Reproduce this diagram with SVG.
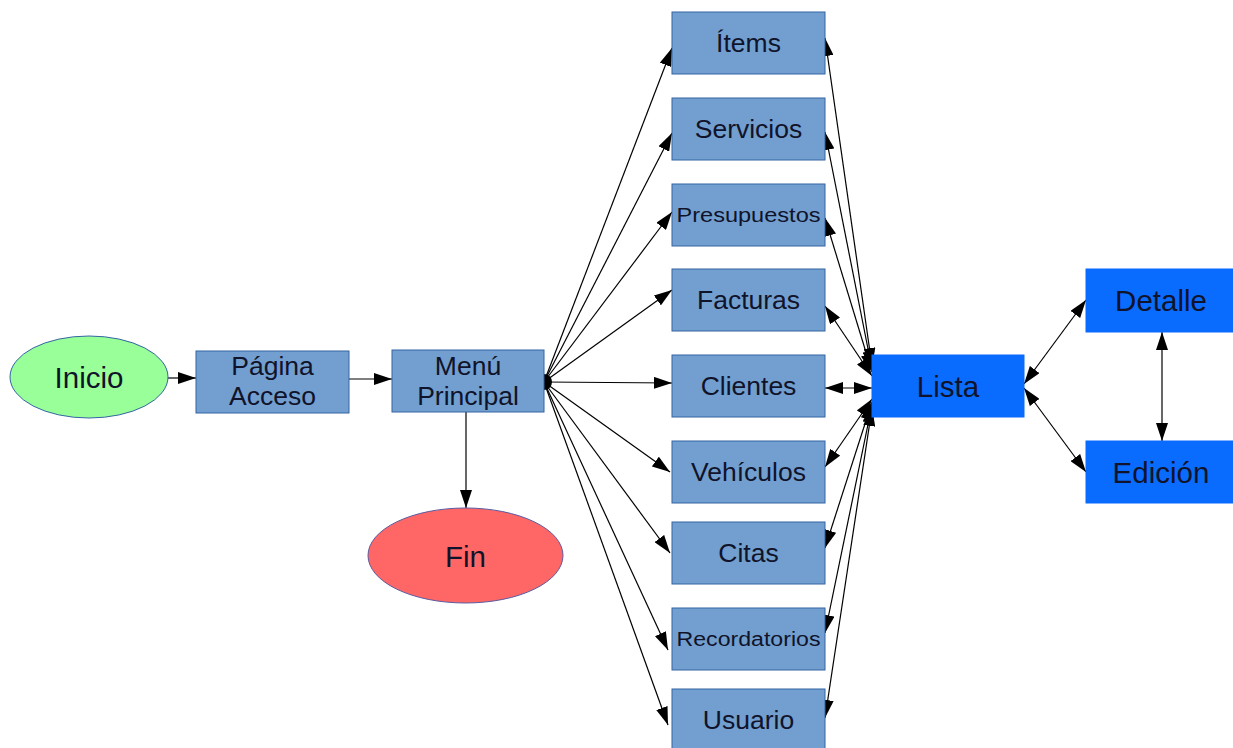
<svg xmlns="http://www.w3.org/2000/svg" width="1233" height="748" viewBox="0 0 1233 748">
  <defs>
    <style>
      .box { fill: #729fcf; stroke: #3465a4; stroke-width: 1; }
      .hot { fill: #0a6bff; stroke: #0a6bff; stroke-width: 1; }
      .lbl { font-family: "Liberation Sans", Arial, sans-serif; font-size: 26.5px; fill: #10132a; text-anchor: middle; dominant-baseline: central; }
      .sm { font-size: 20px; }
      .big { font-size: 29.5px; }
      .edge { stroke: #000; stroke-width: 1.2; fill: none; }
      .one { marker-end: url(#arrow); }
      .two { marker-start: url(#arrow); marker-end: url(#arrow); }
    </style>
    <marker id="arrow" markerUnits="userSpaceOnUse" markerWidth="18" markerHeight="12" refX="18" refY="6" orient="auto-start-reverse">
      <path d="M0,0 L18,6 L0,12 Z" fill="#000"/>
    </marker>
  </defs>

  <rect width="1233" height="748" fill="#fff"/>

  <!-- connectors -->
  <g id="connectors">
    <line class="edge one" x1="168" y1="378" x2="196" y2="378"/>
    <line class="edge one" x1="349" y1="379" x2="392" y2="379"/>
    <line class="edge one" x1="466" y1="412" x2="466" y2="508"/>

    <!-- fan out of the main menu -->
    <line class="edge one" x1="544" y1="382" x2="672" y2="48"/>
    <line class="edge one" x1="544" y1="382" x2="672" y2="133"/>
    <line class="edge one" x1="544" y1="382" x2="672" y2="212"/>
    <line class="edge one" x1="544" y1="382" x2="672" y2="290"/>
    <line class="edge one" x1="544" y1="382" x2="672" y2="383"/>
    <line class="edge one" x1="544" y1="382" x2="670" y2="472"/>
    <line class="edge one" x1="544" y1="382" x2="670" y2="553"/>
    <line class="edge one" x1="544" y1="382" x2="668" y2="650"/>
    <line class="edge one" x1="544" y1="382" x2="668" y2="725"/>
    <path d="M544,374 A8,8 0 0 1 544,390 Z" fill="#000"/>

    <!-- sections to list -->
    <line class="edge two" x1="825" y1="38" x2="872" y2="366"/>
    <line class="edge two" x1="825" y1="132" x2="872" y2="369"/>
    <line class="edge two" x1="825" y1="218" x2="872" y2="372"/>
    <line class="edge two" x1="825" y1="306" x2="872" y2="376"/>
    <line class="edge two" x1="825" y1="388" x2="872" y2="388"/>
    <line class="edge two" x1="825" y1="467" x2="872" y2="399"/>
    <line class="edge two" x1="825" y1="548" x2="872" y2="402"/>
    <line class="edge two" x1="825" y1="633" x2="872" y2="405"/>
    <line class="edge two" x1="825" y1="718" x2="872" y2="408"/>

    <!-- list, detail and edit -->
    <line class="edge two" x1="1024" y1="384" x2="1086" y2="300"/>
    <line class="edge two" x1="1024" y1="388" x2="1086" y2="472"/>
    <line class="edge two" x1="1162" y1="332" x2="1162" y2="441"/>
  </g>

  <g id="inicio">
    <ellipse cx="89" cy="377" rx="79" ry="41" fill="#99ff99" stroke="#3465a4" stroke-width="1"/>
    <text class="lbl big" x="89" y="377">Inicio</text>
  </g>

  <g id="pagina-acceso">
    <rect class="box" x="196" y="351" width="153" height="62"/>
    <text class="lbl" x="272.5" y="366">Página</text>
    <text class="lbl" x="272.5" y="396">Acceso</text>
  </g>

  <g id="menu-principal">
    <rect class="box" x="392" y="350" width="152" height="62"/>
    <text class="lbl" x="468" y="366">Menú</text>
    <text class="lbl" x="468" y="396">Principal</text>
  </g>

  <g id="fin">
    <ellipse cx="465.5" cy="555.5" rx="97.5" ry="47.5" fill="#ff6666" stroke="#5b5ba0" stroke-width="1"/>
    <text class="lbl big" x="465.5" y="556">Fin</text>
  </g>

  <g id="items">
    <rect class="box" x="672" y="12" width="153" height="62"/>
    <text class="lbl" x="748.5" y="43">Ítems</text>
  </g>
  <g id="servicios">
    <rect class="box" x="672" y="98" width="153" height="62"/>
    <text class="lbl" x="748.5" y="129">Servicios</text>
  </g>
  <g id="presupuestos">
    <rect class="box" x="672" y="184" width="153" height="62"/>
    <text class="lbl sm" x="748.5" y="215" textLength="144" lengthAdjust="spacingAndGlyphs">Presupuestos</text>
  </g>
  <g id="facturas">
    <rect class="box" x="672" y="269" width="153" height="62"/>
    <text class="lbl" x="748.5" y="300">Facturas</text>
  </g>
  <g id="clientes">
    <rect class="box" x="672" y="355" width="153" height="62"/>
    <text class="lbl" x="748.5" y="386">Clientes</text>
  </g>
  <g id="vehiculos">
    <rect class="box" x="672" y="441" width="153" height="62"/>
    <text class="lbl" x="748.5" y="472">Vehículos</text>
  </g>
  <g id="citas">
    <rect class="box" x="672" y="522" width="153" height="62"/>
    <text class="lbl" x="748.5" y="553">Citas</text>
  </g>
  <g id="recordatorios">
    <rect class="box" x="672" y="608" width="153" height="62"/>
    <text class="lbl sm" x="748.5" y="639" textLength="144" lengthAdjust="spacingAndGlyphs">Recordatorios</text>
  </g>
  <g id="usuario">
    <rect class="box" x="672" y="689" width="153" height="62"/>
    <text class="lbl" x="748.5" y="720">Usuario</text>
  </g>

  <g id="lista">
    <rect class="hot" x="872" y="355" width="152" height="62"/>
    <text class="lbl big" x="948" y="386">Lista</text>
  </g>
  <g id="detalle">
    <rect class="hot" x="1086" y="269" width="150" height="63"/>
    <text class="lbl big" x="1161" y="300">Detalle</text>
  </g>
  <g id="edicion">
    <rect class="hot" x="1086" y="441" width="150" height="62"/>
    <text class="lbl big" x="1161" y="472">Edición</text>
  </g>
</svg>
